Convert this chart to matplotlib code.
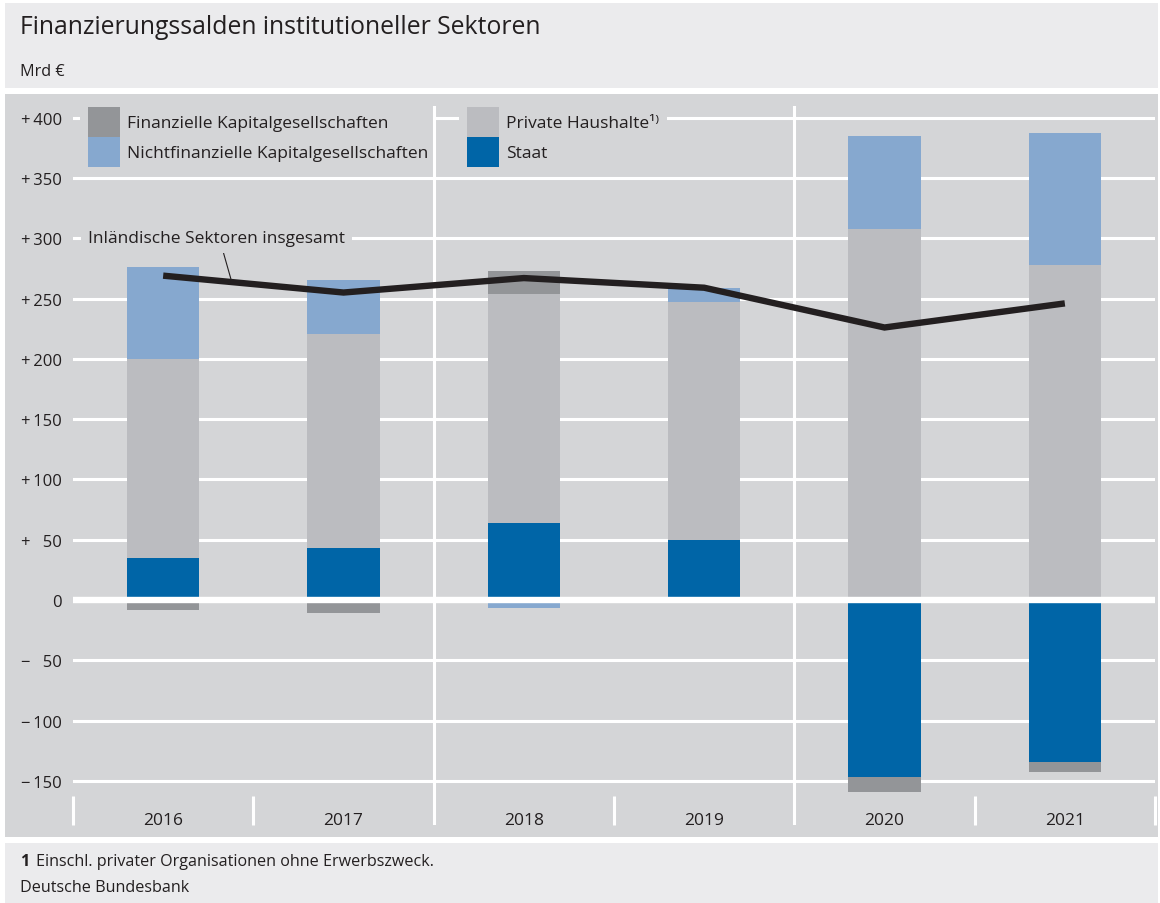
import numpy as np
import matplotlib
matplotlib.use('Agg')
import matplotlib.pyplot as plt
from matplotlib.patches import Rectangle, Patch

# Data (Mrd €)
years = ['2016', '2017', '2018', '2019', '2020', '2021']
staat = [35, 43, 64, 50, -147, -134]
private_hh = [165, 178, 190, 197, 308, 278]
fin_kg = [-8, -11, 19, 0, -12, -9]
nichtfin_kg = [76, 44, -7, 12, 77, 109]
insgesamt = [269, 255, 267, 259, 226, 246]

yticks = [-150, -100, -50, 0, 50, 100, 150, 200, 250, 300, 350, 400]
ytick_labels = ['\u2212\u2009150', '\u2212\u2009100', '\u2212\u2009\u200750', '0',
                '+\u2009\u200750', '+\u2009100', '+\u2009150', '+\u2009200',
                '+\u2009250', '+\u2009300', '+\u2009350', '+\u2009400']

# Colours
c_staat = '#0065a7'
c_priv = '#bbbcc0'
c_fin = '#939598'
c_nfc = '#86a8cf'
c_line = '#231f20'
c_text = '#231f20'
c_panel = '#d4d5d7'
c_head = '#ebebed'

plt.rcParams['font.family'] = ['Open Sans', 'DejaVu Sans']
plt.rcParams['text.color'] = c_text

W, H = 1160, 904
fig = plt.figure(figsize=(W / 100, H / 100), dpi=100)
fig.patch.set_facecolor('white')


def fx(px):
    return px / W


def fy(py):
    return 1 - py / H


# header / panel / footer backgrounds
for y0, y1, col in [(4, 89, c_head), (95, 838, c_panel), (844, 904, c_head)]:
    fig.patches.append(Rectangle((fx(5), fy(y1)), fx(1158) - fx(5), fy(y0) - fy(y1),
                                 transform=fig.transFigure, facecolor=col,
                                 edgecolor='none', zorder=-5))

fig.text(fx(20), fy(28), 'Finanzierungssalden institutioneller Sektoren',
         fontsize=17.8, va='center', ha='left')
fig.text(fx(20), fy(72), 'Mrd €', fontsize=11.7, va='center', ha='left')
fig.text(fx(20), fy(862), '1', fontsize=11.6, fontweight='bold', va='center')
fig.text(fx(36), fy(862), 'Einschl. privater Organisationen ohne Erwerbszweck.',
         fontsize=11.6, va='center')
fig.text(fx(20), fy(888), 'Deutsche Bundesbank', fontsize=11.6, va='center')

ax = fig.add_axes([fx(73), fy(826), fx(1155) - fx(73), fy(107) - fy(826)])
ax.patch.set_visible(False)
for s in ax.spines.values():
    s.set_visible(False)

x = np.arange(len(years))

# gridlines
for t in yticks:
    if t != 0:
        ax.axhline(t, color='white', lw=2.2, zorder=1)
ax.axhline(0, color='white', lw=4.6, zorder=3)
ax.axvline(1.5, color='white', lw=2.2, zorder=1.8)
ax.axvline(3.5, color='white', lw=2.2, zorder=1.8)
ax.vlines([-0.5, 0.5, 2.5, 4.5, 5.5], -186.6, -162.5, color='white', lw=2.2,
          zorder=1.8, clip_on=False)

# stacked bars: positive parts upward, negative parts downward
pos_base = np.zeros(len(years))
neg_base = np.zeros(len(years))
for vals, col in [(staat, c_staat), (private_hh, c_priv), (fin_kg, c_fin),
                  (nichtfin_kg, c_nfc)]:
    v = np.array(vals, dtype=float)
    base = np.where(v >= 0, pos_base, neg_base)
    ax.bar(x, v, 0.4, bottom=base, color=col, zorder=2, linewidth=0)
    pos_base += np.clip(v, 0, None)
    neg_base += np.clip(v, None, 0)

ax.plot(x, insgesamt, color=c_line, lw=4.6, zorder=4, solid_capstyle='butt',
        solid_joinstyle='miter')

ax.annotate('Inländische Sektoren insgesamt', xy=(0.378, 265), xytext=(-0.417, 300),
            ha='left', va='center', fontsize=12.5, zorder=3.5,
            bbox=dict(boxstyle='square,pad=0.4', fc=c_panel, ec='none'),
            arrowprops=dict(arrowstyle='-', color=c_text, lw=0.8,
                            relpos=(0.52, 0), shrinkA=0, shrinkB=0))

ax.set_xlim(-0.5, 5.5)
ax.set_ylim(-186.6, 409.7)
ax.set_xticks([])
ax.set_yticks(yticks, ytick_labels)
ax.tick_params(axis='y', length=0, pad=8, labelsize=12, labelcolor=c_text)

for xi, yr in zip(x, years):
    ax.text(xi, -186, yr, ha='center', va='baseline', fontsize=12.5)

# legend, two columns with panel-coloured background (under the vertical lines)
leg_kw = dict(loc='upper left', frameon=True, facecolor=c_panel, edgecolor='none',
              framealpha=1, fancybox=False, borderpad=0.46, labelspacing=0,
              handlelength=1.84, handleheight=2.28, handletextpad=0.4,
              fontsize=12.5, borderaxespad=0, bbox_transform=fig.transFigure)
leg1 = ax.legend(handles=[Patch(fc=c_fin, lw=0), Patch(fc=c_nfc, lw=0)],
                 labels=['Finanzielle Kapitalgesellschaften',
                         'Nichtfinanzielle Kapitalgesellschaften'],
                 bbox_to_anchor=(fx(80), fy(100)), **leg_kw)
leg1.set_zorder(1.5)
ax.add_artist(leg1)
leg2 = ax.legend(handles=[Patch(fc=c_priv, lw=0), Patch(fc=c_staat, lw=0)],
                 labels=['Private Haushalte\u00b9\u207e', 'Staat'],
                 bbox_to_anchor=(fx(459), fy(100)), **leg_kw)
leg2.set_zorder(1.5)

fig.savefig('out.png', dpi=100, facecolor=fig.get_facecolor())
